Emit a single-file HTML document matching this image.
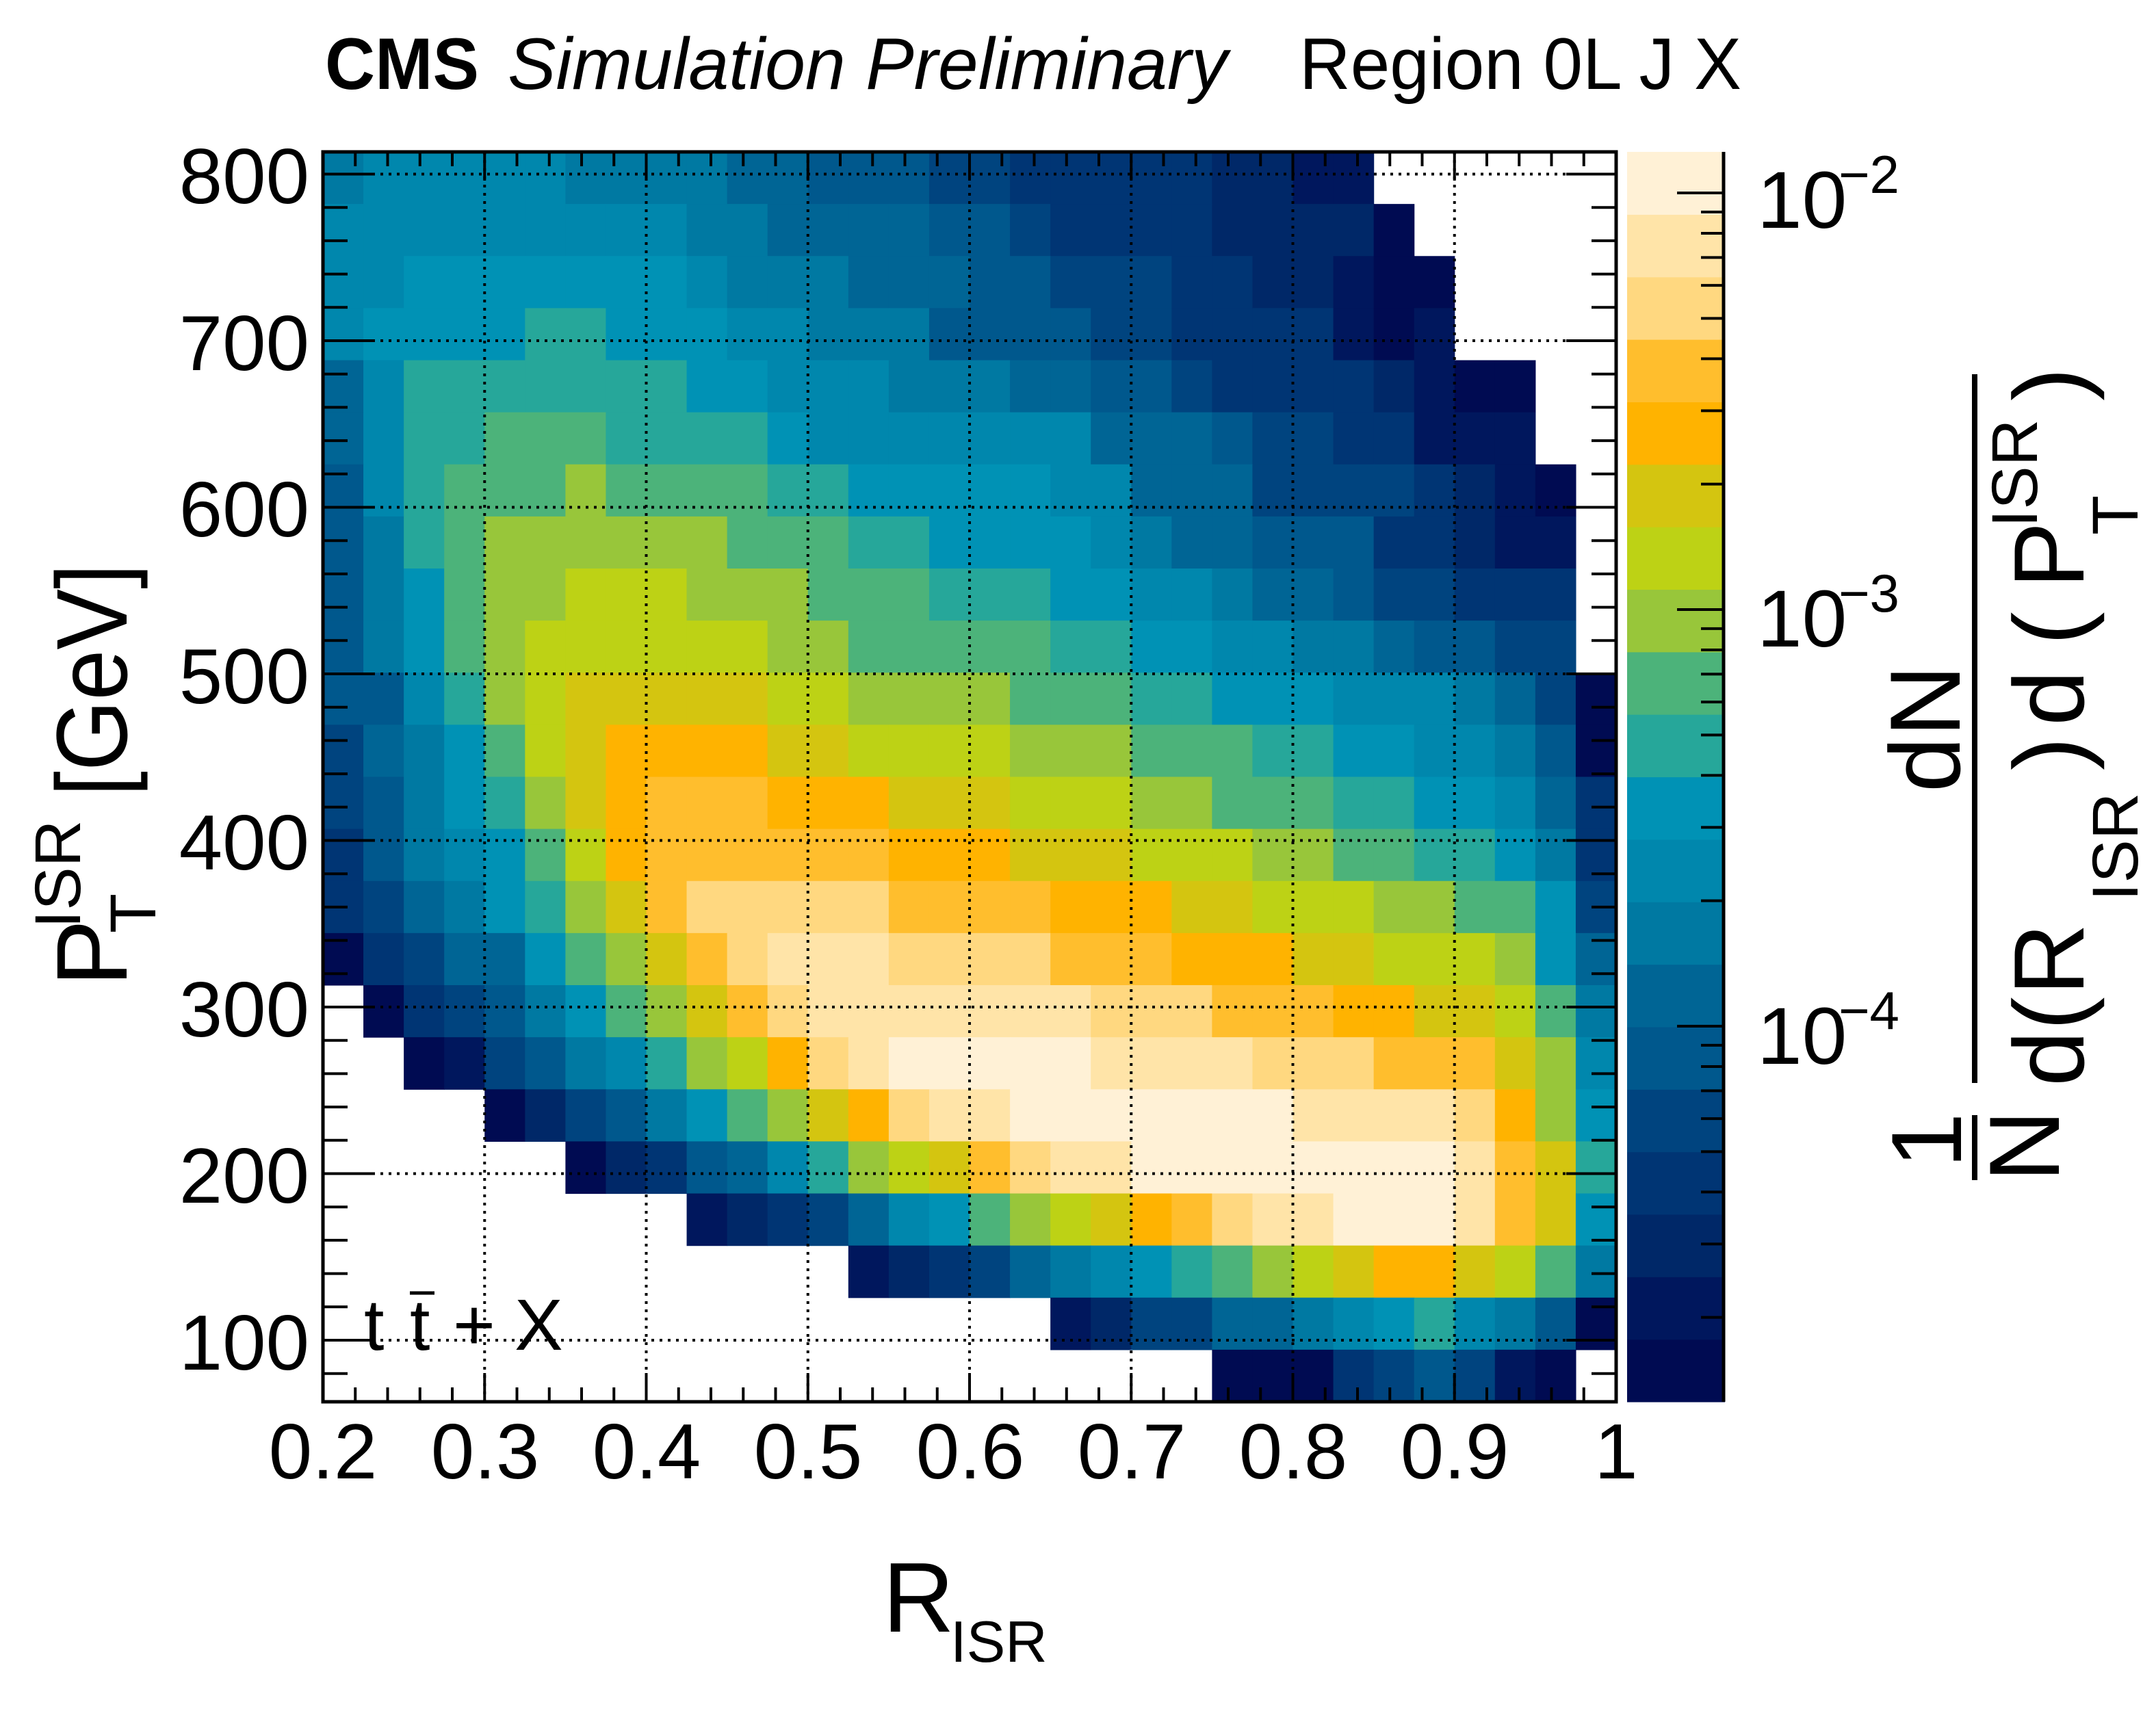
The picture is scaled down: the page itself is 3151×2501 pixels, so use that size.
<!DOCTYPE html>
<html><head><meta charset="utf-8">
<style>html,body{margin:0;padding:0;background:#fff;}svg{display:block;}
text{font-family:"Liberation Sans",Arial,sans-serif;fill:#000;}</style></head>
<body>
<svg id="s" xmlns="http://www.w3.org/2000/svg" width="3151" height="2501" viewBox="0 0 3151 2501">
<rect width="3151" height="2501" fill="#fff"/>
<g id="cells"></g>
<g id="cbar"></g>
<g id="grid" stroke="#000" stroke-width="4" stroke-dasharray="4 8" fill="none"></g>
<g id="ticks" stroke="#000" stroke-width="4" fill="none"></g>
<rect x="472" y="222" width="1890" height="1827" fill="none" stroke="#000" stroke-width="5"/>
<line x1="2519" y1="222" x2="2519" y2="2049" stroke="#000" stroke-width="5"/>

<!-- title -->
<text x="475" y="130" font-size="107" font-weight="bold" textLength="225" lengthAdjust="spacingAndGlyphs">CMS</text>
<text x="742" y="130" font-size="107" font-style="italic" textLength="1052" lengthAdjust="spacingAndGlyphs">Simulation Preliminary</text>
<text x="1899" y="130" font-size="107" textLength="646" lengthAdjust="spacingAndGlyphs">Region 0L J X</text>

<!-- y tick labels -->
<g font-size="114" text-anchor="end">
<text x="452" y="297">800</text><text x="452" y="541">700</text><text x="452" y="784">600</text>
<text x="452" y="1028">500</text><text x="452" y="1271">400</text><text x="452" y="1515">300</text>
<text x="452" y="1758">200</text><text x="452" y="2002">100</text>
</g>
<!-- x tick labels -->
<g font-size="114" text-anchor="middle">
<text x="472" y="2161">0.2</text><text x="709" y="2161">0.3</text><text x="945" y="2161">0.4</text>
<text x="1181" y="2161">0.5</text><text x="1418" y="2161">0.6</text><text x="1654" y="2161">0.7</text>
<text x="1890" y="2161">0.8</text><text x="2126" y="2161">0.9</text><text x="2362" y="2161">1</text>
</g>
<!-- x axis title -->
<text x="1290" y="2385" font-size="145">R</text>
<text x="1389" y="2429" font-size="85">ISR</text>

<!-- y axis title -->
<g transform="translate(185,1442) rotate(-90)">
<text x="0" y="0" font-size="147">P</text>
<text x="78" y="42" font-size="95">T</text>
<text x="85" y="-68" font-size="95">ISR</text>
<text x="278" y="0" font-size="147" textLength="340" lengthAdjust="spacingAndGlyphs">[GeV]</text>
</g>

<!-- ttbar label -->
<g font-size="106">
<text x="532" y="1973">t</text>
<text x="599" y="1973">t</text>
<line x1="599" y1="1890" x2="635" y2="1890" stroke="#000" stroke-width="5"/>
<text x="662" y="1973">+</text>
<text x="752" y="1973">X</text>
</g>

<!-- colorbar labels -->
<g font-size="118">
<text x="2568" y="333">10</text><text x="2687" y="282" font-size="78">−2</text>
<text x="2568" y="945">10</text><text x="2687" y="894" font-size="78">−3</text>
<text x="2568" y="1555">10</text><text x="2687" y="1504" font-size="78">−4</text>
</g>

<!-- z axis title -->
<g transform="translate(2866,1667) rotate(-90)"><text x="0" y="0" font-size="146" text-anchor="middle">1</text></g>
<rect x="2882" y="1630" width="8" height="95" fill="#000"/>
<g transform="translate(3009,1675) rotate(-90)"><text x="0" y="0" font-size="146" text-anchor="middle">N</text></g>
<rect x="2882" y="547" width="8" height="1036" fill="#000"/>
<g transform="translate(2864,1065) rotate(-90)"><text x="0" y="0" font-size="146" text-anchor="middle">dN</text></g>
<g transform="translate(3045,1588) rotate(-90)" font-size="146">
<text x="0" y="0">d</text>
<text x="82" y="0">(</text>
<text x="133" y="0">R</text>
<text x="271" y="79" font-size="95">ISR</text>
<text x="462" y="0">)</text>
<text x="527" y="0">d</text>
<text x="645" y="0">(</text>
<text x="728" y="0">P</text>
<text x="806" y="79" font-size="95">T</text>
<text x="817" y="-68" font-size="95">ISR</text>
<text x="1002" y="0">)</text>
</g>
</svg>
<script>
(function(){
var pal=["#000b52","#00175d","#002868","#003574","#00447f","#00588d","#006595","#0079a2","#0087ad","#0092b5",
"#26a79a","#4cb37a","#98c63a","#bdd215","#d4c510","#ffb300","#ffbe2d","#ffd880","#ffe4a8","#fff1d6"];
var E=-1;
var D=[
[7,8,8,8,8,8,7,7,7,7,6,6,5,5,5,4, 4,3,3,3,3,3,2,2,1,1,E,E,E,E,E,E],
[8,8,8,8,8,8,8,8,8,7,7,6,6,6,6,5, 5,4,3,3,3,3,2,2,2,2,0,E,E,E,E,E],
[8,8,9,9,9,9,9,9,9,8,7,7,7,6,6,6, 5,5,4,4,4,3,3,2,2,1,0,0,E,E,E,E],
[8,9,9,9,9,10,10,9,9,9,8,8,7,7,7,5, 5,5,5,4,4,3,3,3,3,1,0,1,E,E,E,E],
[6,8,10,10,10,10,10,10,10,9,9,8,8,8,7,7, 7,6,6,5,5,4,3,3,3,3,2,1,0,0,E,E],
[6,8,10,10,11,11,11,10,10,10,10,9,8,8,8,8, 8,8,8,6,6,6,5,4,4,3,3,1,1,1,E,E],
[5,8,10,11,11,11,12,11,11,11,11,10,10,9,9,9, 9,9,8,8,6,6,6,4,4,4,4,3,2,1,0,E],
[5,7,10,11,12,12,12,12,12,12,11,11,11,10,10,9, 9,9,9,8,7,6,6,5,5,5,3,3,2,1,1,E],
[5,7,9,11,12,12,13,13,13,12,12,12,11,11,11,10, 10,10,9,9,8,8,7,6,6,5,4,4,3,3,3,E],
[5,7,9,11,12,13,13,13,13,13,13,12,12,11,11,11, 11,11,10,10,9,9,8,8,7,7,6,5,5,4,4,E],
[5,5,8,10,12,13,14,14,14,14,14,13,13,12,12,12, 12,11,11,11,10,10,9,9,9,8,8,8,7,6,4,0],
[4,6,7,9,11,13,14,15,15,15,15,14,14,13,13,13, 13,12,12,12,11,11,11,10,10,9,9,8,8,7,5,0],
[4,5,7,9,10,12,14,15,16,16,16,15,15,15,14,14, 14,13,13,13,12,12,11,11,11,10,10,9,9,8,6,3],
[3,5,7,8,9,11,13,15,16,16,16,16,16,16,15,15, 15,14,14,14,13,13,13,12,12,11,11,10,10,9,7,3],
[3,4,6,7,9,10,12,14,16,17,17,17,17,17,16,16, 16,16,15,15,15,14,14,13,13,13,12,12,11,11,9,4],
[0,3,4,6,6,9,11,12,14,16,17,18,18,18,17,17, 17,17,16,16,16,15,15,15,14,14,13,13,13,12,9,6],
[E,0,3,4,5,7,9,11,12,14,16,17,18,18,18,18, 18,18,18,17,17,17,16,16,16,15,15,14,14,13,11,7],
[E,E,0,1,4,5,7,8,10,12,13,15,17,18,19,19, 19,19,19,18,18,18,18,17,17,17,16,16,16,14,12,8],
[E,E,E,E,0,2,4,5,7,9,11,12,14,15,17,18, 18,19,19,19,19,19,19,19,18,18,18,18,17,15,12,9],
[E,E,E,E,E,E,0,2,3,5,6,8,10,12,13,14, 16,17,18,18,19,19,19,19,19,19,19,19,18,16,14,10],
[E,E,E,E,E,E,E,E,E,1,2,3,4,6,8,9, 11,12,13,14,15,16,17,18,18,19,19,19,18,16,14,9],
[E,E,E,E,E,E,E,E,E,E,E,E,E,1,2,3, 4,6,7,8,9,10,11,12,13,14,15,15,14,13,11,7],
[E,E,E,E,E,E,E,E,E,E,E,E,E,E,E,E, E,E,1,2,4,4,6,6,7,8,9,10,8,7,5,0],
[E,E,E,E,E,E,E,E,E,E,E,E,E,E,E,E, E,E,E,E,E,E,0,0,0,3,4,5,4,1,0,E]];
var NS="http://www.w3.org/2000/svg";
function el(p,t,a){var e=document.createElementNS(NS,t);for(var k in a)e.setAttribute(k,a[k]);p.appendChild(e);return e;}
var cells=document.getElementById("cells");
var x0=472,y0=222,cw=1890/32,rh=1827/24;
for(var r=0;r<24;r++)for(var c=0;c<32;c++){var v=D[r][c];if(v<0)continue;
el(cells,"rect",{x:(x0+c*cw).toFixed(2),y:(y0+r*rh).toFixed(2),width:(cw+0.6).toFixed(2),height:(rh+0.6).toFixed(2),fill:pal[v]});}
var cb=document.getElementById("cbar"),bh=1827/20;
for(var i=0;i<20;i++){el(cb,"rect",{x:2378,y:(2049-(i+1)*bh).toFixed(2),width:143,height:(bh+0.6).toFixed(2),fill:pal[i]});}
var g=document.getElementById("grid");
for(var k=1;k<8;k++){var x=472+k*236.25;el(g,"line",{x1:x,y1:222,x2:x,y2:2049});}
for(var k=0;k<8;k++){var y=254.5+k*243.5;el(g,"line",{x1:472,y1:y,x2:2362,y2:y});}
var t=document.getElementById("ticks");
// x ticks every 0.02
for(var k=0;k<=40;k++){var x=472+k*1890/40;var L=(k%5==0)?42:21;
el(t,"line",{x1:x,y1:2049,x2:x,y2:2049-L});el(t,"line",{x1:x,y1:222,x2:x,y2:222+L});}
// y ticks every 20 GeV
for(var v=80;v<=800;v+=20){var y=254.5+(800-v)*2.435;var L=(v%100==0)?73:36;
el(t,"line",{x1:472,y1:y,x2:472+L,y2:y});el(t,"line",{x1:2362,y1:y,x2:2362-L,y2:y});}
// colorbar log ticks
for(var n=-5;n<=-2;n++)for(var m=1;m<=9;m++){var lv=n+Math.log10(m);var y=282-609*(lv+2);
if(y<224||y>2047)continue;var L=(m==1)?68:33;el(t,"line",{x1:2519,y1:y,x2:2519-L,y2:y});}
})();
</script>
</body></html>
